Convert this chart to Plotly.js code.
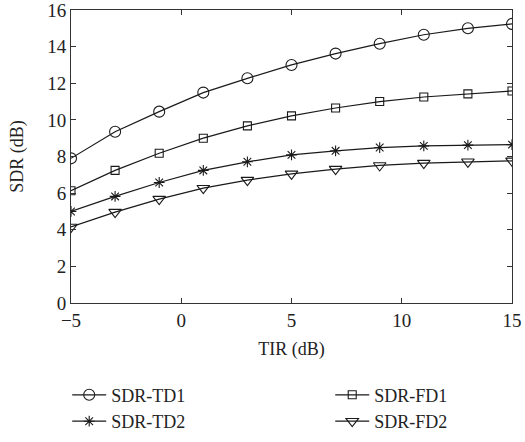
<!DOCTYPE html>
<html><head><meta charset="utf-8">
<script src="https://cdn.plot.ly/plotly-3.0.1.min.js"></script>
<style>html,body{margin:0;padding:0;background:#fff}</style>
</head><body>
<div id="chart" style="width:525px;height:442px"></div>
<script>
const tir = [-5, -3, -1, 1, 3, 5, 7, 9, 11, 13, 15];
const sdrTD1 = [7.9, 9.35, 10.45, 11.49, 12.27, 13.0, 13.62, 14.16, 14.65, 15.0, 15.24];
const sdrFD1 = [6.13, 7.24, 8.18, 9.0, 9.67, 10.22, 10.65, 11.0, 11.25, 11.42, 11.58];
const sdrTD2 = [5.0, 5.82, 6.58, 7.24, 7.71, 8.09, 8.31, 8.49, 8.58, 8.62, 8.65];
const sdrFD2 = [4.15, 4.96, 5.67, 6.27, 6.71, 7.05, 7.31, 7.51, 7.64, 7.71, 7.76];
const names = ['SDR-TD1', 'SDR-FD1', 'SDR-TD2', 'SDR-FD2'];
const xTicks = [-5, 0, 5, 10, 15];
const xTickText = ['\u22125', '0', '5', '10', '15'];
const xTitle = 'TIR (dB)';
const yTitle = 'SDR (dB)';

const fontFam = 'Liberation Serif, DejaVu Serif, serif';
function tr(y, name, symbol, size, legendName) {
  return {x: tir, y: y, name: name, type: 'scatter', mode: 'lines+markers', legend: legendName,
    line: {color: '#1a1a1a', width: 1.2},
    marker: {symbol: symbol, size: size, color: '#1a1a1a', line: {color: '#1a1a1a', width: 1.1}}};
}
const data = [
  tr(sdrTD1, names[0], 'circle-open', 11, 'legend'),
  tr(sdrFD1, names[1], 'square-open', 8, 'legend2'),
  tr(sdrTD2, names[2], 'asterisk-open', 9, 'legend'),
  tr(sdrFD2, names[3], 'triangle-down-open', 11, 'legend2')
];
const legendCommon = {orientation: 'v', xref: 'container', yref: 'container', y: 0.148,
  xanchor: 'left', yanchor: 'top', tracegroupgap: 0, bgcolor: 'rgba(0,0,0,0)', itemwidth: 34,
  font: {family: fontFam, size: 18, color: '#222'}, itemsizing: 'trace'};
const layout = {
  width: 525, height: 442,
  margin: {l: 71, r: 13, t: 10, b: 139, autoexpand: false},
  paper_bgcolor: '#fff', plot_bgcolor: '#fff',
  font: {family: fontFam, size: 18, color: '#222'},
  showlegend: true,
  xaxis: {range: [-5, 15], tickvals: xTicks, ticktext: xTickText, ticklabeloverflow: 'allow',
    ticks: 'inside', ticklen: 5, tickcolor: '#333', mirror: 'ticks',
    showline: true, linecolor: '#333', linewidth: 1, showgrid: false, zeroline: false,
    tickfont: {family: fontFam, size: 19},
    title: {text: xTitle, standoff: 12, font: {family: fontFam, size: 18}}},
  yaxis: {range: [0, 16], dtick: 2, ticks: 'inside', ticklen: 5, tickcolor: '#333', mirror: 'ticks',
    showline: true, linecolor: '#333', linewidth: 1, showgrid: false, zeroline: false, ticklabeloverflow: 'allow',
    tickfont: {family: fontFam, size: 19},
    title: {text: ''}},
  annotations: [{text: yTitle, xref: 'paper', yref: 'paper', x: -0.122, y: 0.5,
    xanchor: 'center', yanchor: 'middle', textangle: -90, showarrow: false,
    font: {family: fontFam, size: 18, color: '#222'}}],
  legend: Object.assign({}, legendCommon, {x: 0.128}),
  legend2: Object.assign({}, legendCommon, {x: 0.629})
};
Plotly.newPlot('chart', data, layout, {displayModeBar: false, staticPlot: true});
</script>
</body></html>
